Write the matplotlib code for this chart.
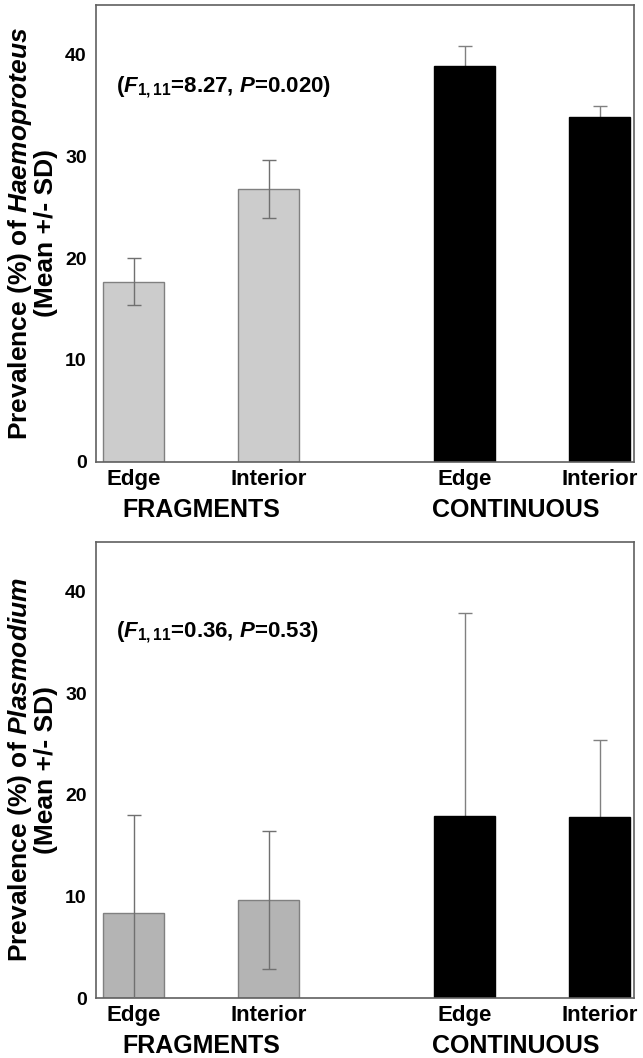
import matplotlib
matplotlib.use("Agg")
import matplotlib.pyplot as plt
import numpy as np

plt.rcParams['font.family'] = ['Liberation Sans', 'DejaVu Sans']
plt.rcParams['font.weight'] = 'bold'
plt.rcParams['mathtext.fontset'] = 'custom'
plt.rcParams['mathtext.rm'] = 'Liberation Sans:bold'
plt.rcParams['mathtext.bf'] = 'Liberation Sans:bold'
plt.rcParams['mathtext.it'] = 'Liberation Sans:italic:bold'

# data
habitats = ['FRAGMENTS', 'CONTINUOUS']
positions = ['Edge', 'Interior', 'Edge', 'Interior']
is_continuous = [False, False, True, True]

haemo_mean = [17.7, 26.8, 38.9, 33.9]
haemo_sd = [2.3, 2.85, 2.0, 1.1]

plasmo_mean = [8.35, 9.65, 17.95, 17.8]
plasmo_sd = [9.7, 6.75, 19.9, 7.6]

haemo_stat = r'($\it{F}_{1,11}$=8.27, $\it{P}$=0.020)'
plasmo_stat = r'($\it{F}_{1,11}$=0.36, $\it{P}$=0.53)'

x = np.array([1, 2, 3.45, 4.45])


def panel(ax, means, sds, frag_color, ylabel, stat, stat_y):
    means = np.array(means)
    sds = np.array(sds)
    cont = np.array(is_continuous)
    colors = ['black' if c else frag_color for c in cont]
    edges = ['black' if c else '#808080' for c in cont]
    ax.bar(x, means, width=0.45, color=colors, edgecolor=edges, linewidth=1, zorder=2)
    # fragments: error bars drawn over the bars
    ax.errorbar(x[~cont], means[~cont], yerr=sds[~cont], fmt='none', ecolor='#707070',
                elinewidth=1, capsize=5, capthick=1, zorder=3)
    # continuous: error bars behind the black bars
    ax.errorbar(x[cont], means[cont], yerr=sds[cont], fmt='none', ecolor='#808080',
                elinewidth=1, capsize=5, capthick=1, zorder=1)
    ax.set_xlim(0.725, 4.70)
    ax.set_ylim(0, 44.9)
    ax.set_yticks([0, 10, 20, 30, 40])
    ax.set_xticks(x)
    ax.set_xticklabels(positions, fontsize=16, fontweight='bold')
    ax.tick_params(axis='both', length=0)
    ax.tick_params(axis='y', labelsize=14, pad=7)
    ax.tick_params(axis='x', pad=5)
    for s in ax.spines.values():
        s.set_color('#606060')
        s.set_linewidth(1.2)
    ax.set_ylabel(ylabel, fontsize=19, fontweight='bold', labelpad=5, linespacing=1.0)
    ax.text(0.87, stat_y, stat, fontsize=16, fontweight='bold', ha='left', va='center')
    ax.text((x[0] + x[1]) / 2, -0.105, habitats[0], transform=ax.get_xaxis_transform(),
            ha='center', va='center', fontsize=18, fontweight='bold')
    ax.text((x[2] + x[3]) / 2 - 0.12, -0.105, habitats[1], transform=ax.get_xaxis_transform(),
            ha='center', va='center', fontsize=18, fontweight='bold')


fig = plt.figure(figsize=(6.43, 10.58), dpi=100)
ax1 = fig.add_axes([0.150, 0.5636, 0.8355, 0.4317])
ax2 = fig.add_axes([0.150, 0.0567, 0.8355, 0.4313])

panel(ax1, haemo_mean, haemo_sd, '#cccccc',
      'Prevalence (%) of $\\it{Haemoproteus}$\n(Mean +/- SD)', haemo_stat, 36.8)
panel(ax2, plasmo_mean, plasmo_sd, '#b4b4b4',
      'Prevalence (%) of $\\it{Plasmodium}$\n(Mean +/- SD)', plasmo_stat, 36.0)

fig.savefig('out.png', dpi=100)
